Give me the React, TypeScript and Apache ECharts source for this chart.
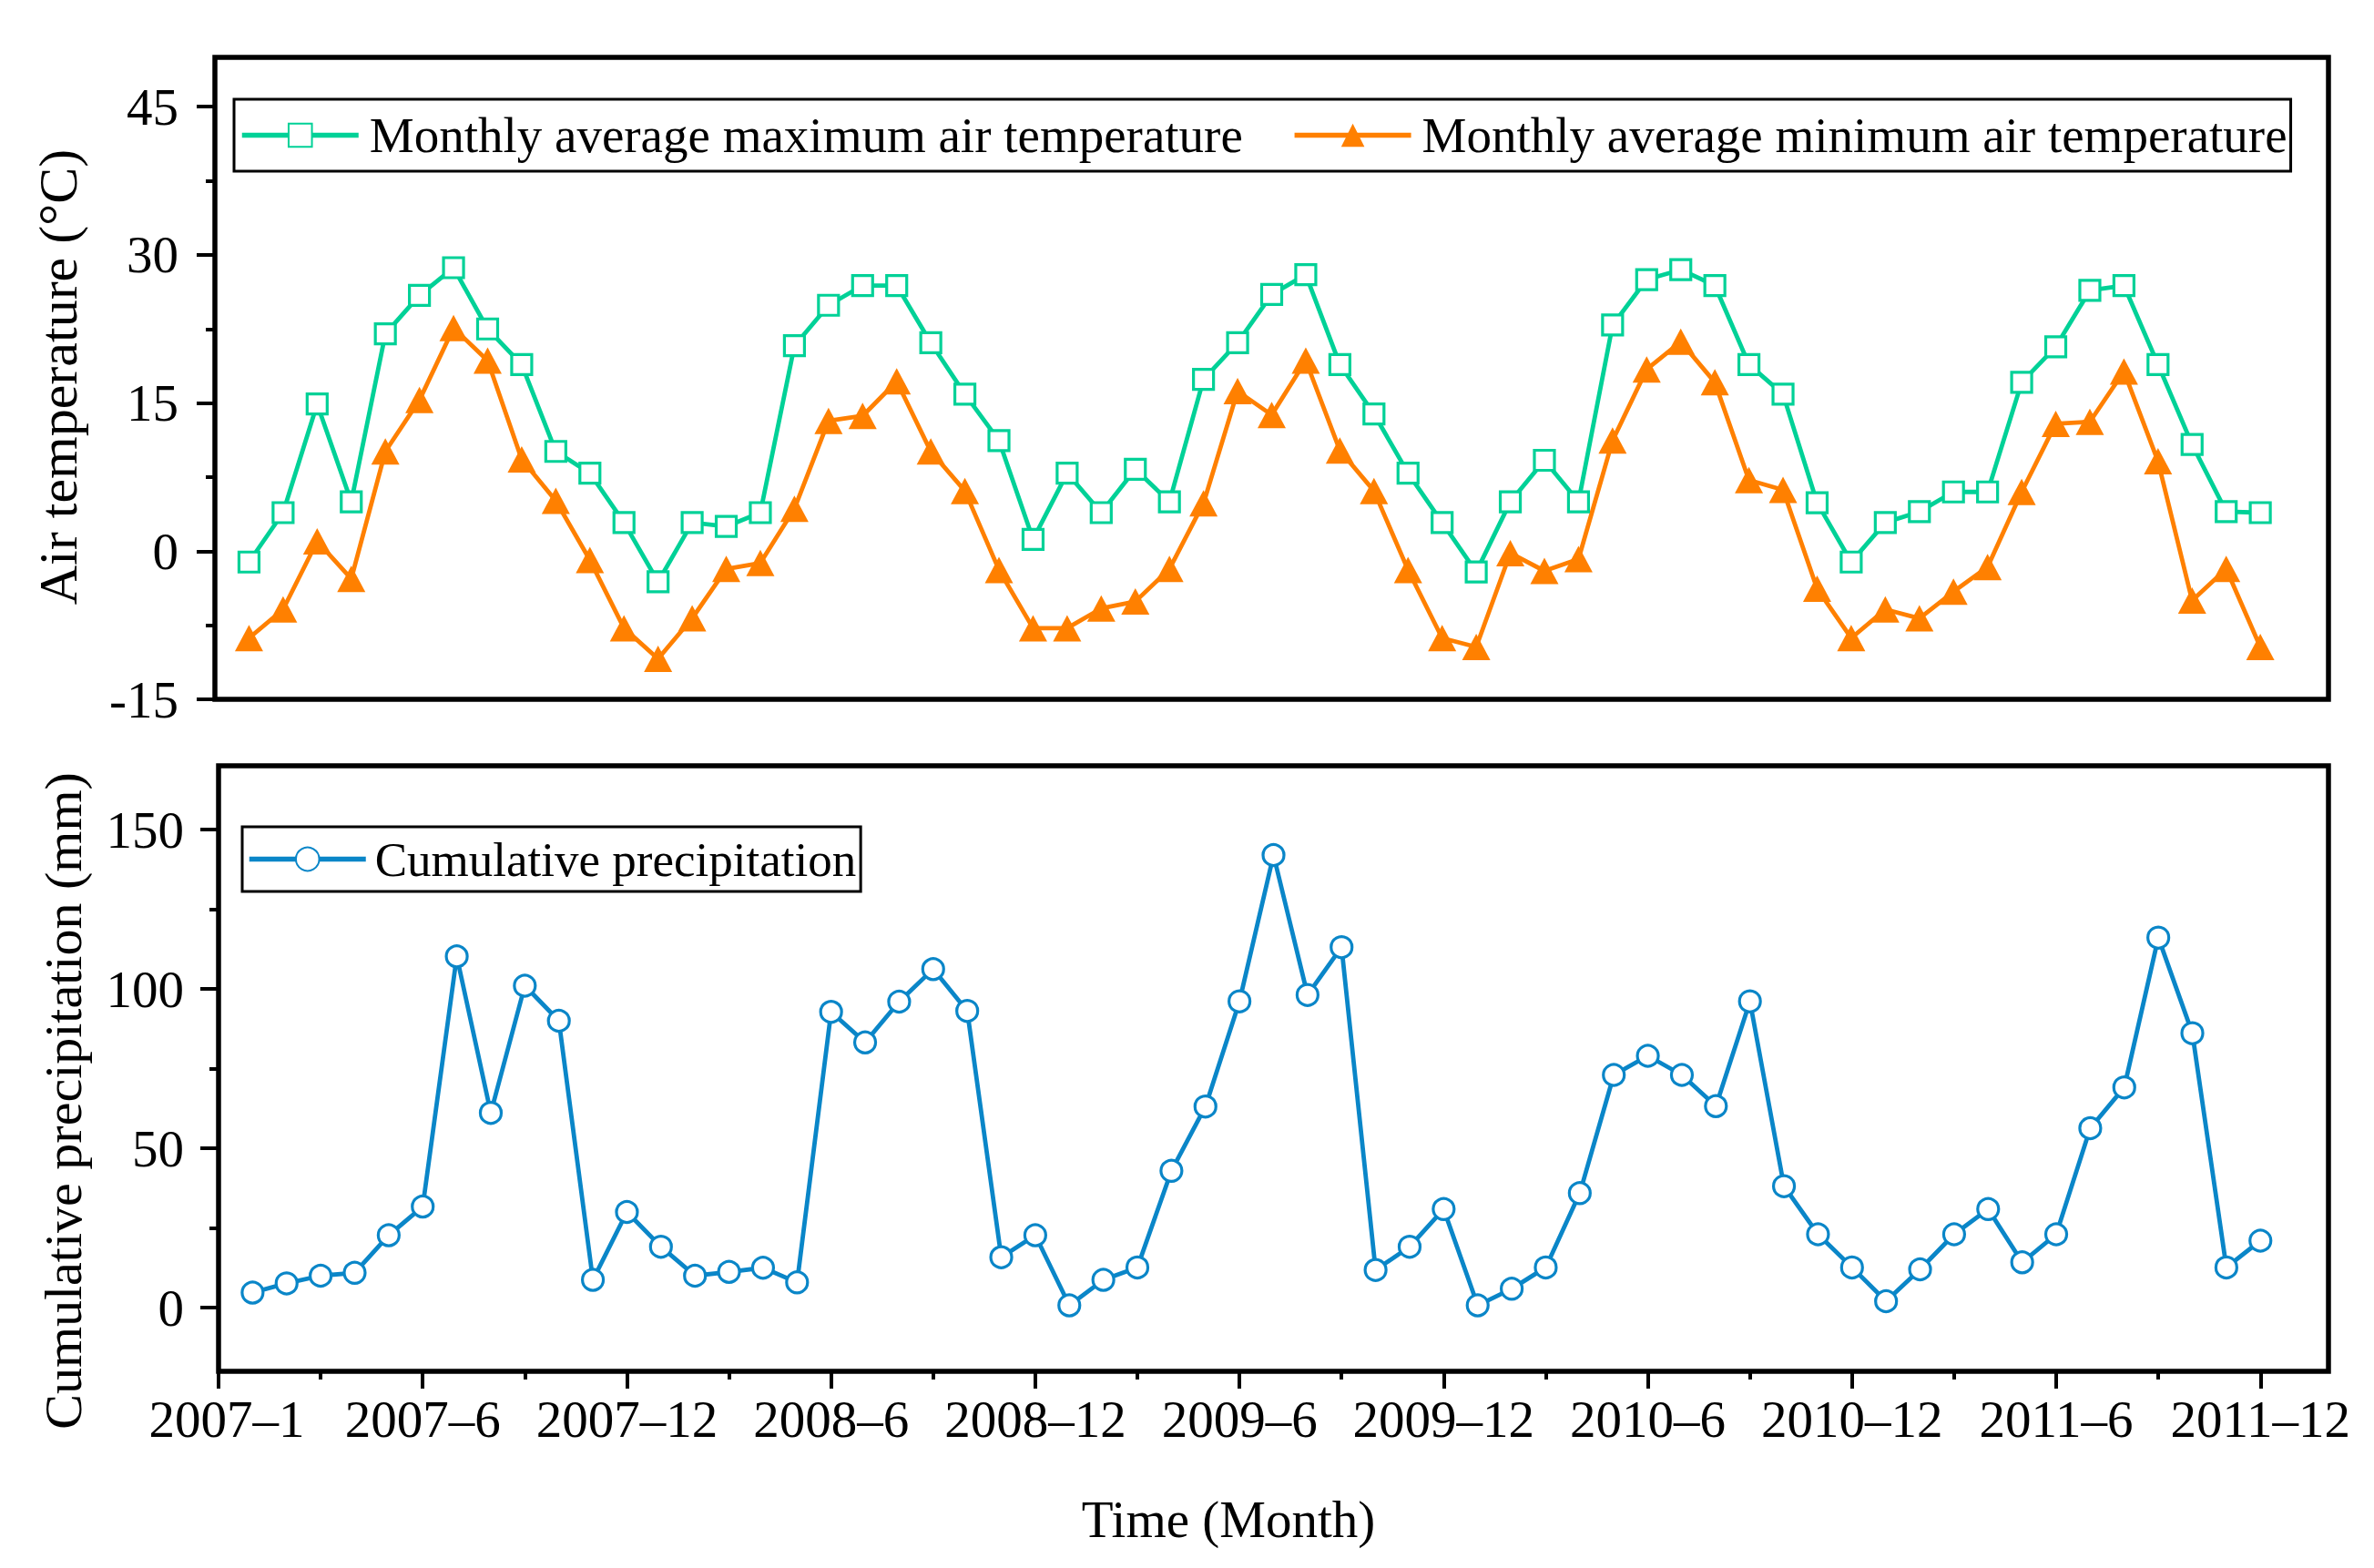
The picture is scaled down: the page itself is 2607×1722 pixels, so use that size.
import React, { useEffect, useRef } from 'react';
import * as echarts from 'echarts';

// ---- data ----
const monthIndex = Array.from({ length: 60 }, (_, i) => i + 1); // Jan 2007 .. Dec 2011 positions

const tempMax = [
  -1.1, 3.9, 14.9, 5.0, 22.0, 25.9, 28.7, 22.5, 18.9, 10.1,
  7.9, 2.9, -3.1, 2.9, 2.5, 3.9, 20.8, 24.9, 26.9, 26.9,
  21.1, 15.9, 11.2, 1.2, 7.9, 3.9, 8.3, 5.0, 17.4, 21.1,
  26.0, 28.0, 18.9, 13.9, 7.9, 2.9, -2.1, 5.0, 9.2, 5.0,
  22.9, 27.5, 28.5, 26.9, 18.9, 15.9, 4.9, -1.1, 2.9, 4.0,
  6.0, 6.0, 17.1, 20.7, 26.4, 26.9, 18.9, 10.8, 4.0, 3.9,
];

const tempMin = [
  -8.8, -5.9, 1.0, -2.8, 10.1, 15.3, 22.6, 19.3, 9.3, 5.1,
  -0.9, -7.8, -10.9, -6.8, -1.8, -1.2, 4.3, 13.2, 13.7, 17.2,
  10.1, 6.1, -1.9, -7.8, -7.8, -5.8, -5.1, -1.8, 4.85, 16.2,
  13.8, 19.3, 10.2, 6.1, -1.9, -8.8, -9.7, -0.2, -2.0, -0.8,
  11.2, 18.4, 21.2, 17.1, 7.2, 6.2, -3.8, -8.8, -5.9, -6.8,
  -4.1, -1.6, 6.0, 12.9, 13.1, 18.2, 9.1, -5.0, -1.8, -9.7,
];

const precipitation = [
  4.7, 7.6, 10.0, 10.9, 22.7, 31.7, 110.2, 61.1, 101.0, 90.0,
  8.7, 30.0, 19.1, 10.0, 11.2, 12.5, 7.9, 92.8, 83.2, 96.0,
  106.2, 93.1, 15.8, 22.7, 0.7, 8.7, 12.6, 42.9, 63.1, 96.1,
  142.0, 98.1, 113.1, 11.8, 19.1, 30.9, 0.7, 5.9, 12.6, 35.9,
  73.0, 79.0, 73.0, 63.2, 96.1, 38.1, 23.0, 12.6, 2.0, 12.0,
  23.0, 30.9, 14.2, 23.0, 56.3, 69.1, 116.1, 86.1, 12.6, 21.0,
];

const xTickValues = [0, 6, 12, 18, 24, 30, 36, 42, 48, 54, 60];
const xTickLabels = [
  '2007–1', '2007–6', '2007–12', '2008–6', '2008–12', '2009–6',
  '2009–12', '2010–6', '2010–12', '2011–6', '2011–12',
];
const xMinorTicks = [3, 9, 15, 21, 27, 33, 39, 45, 51, 57];
const tempTicks = [-15, 0, 15, 30, 45];
const tempMinorTicks = [-7.5, 7.5, 22.5, 37.5];
const precTicks = [0, 50, 100, 150];
const precMinorTicks = [25, 75, 125];

const seriesNames = [
  'Monthly average maximum air temperature',
  'Monthly average minimum air temperature',
  'Cumulative precipitation',
];

const GREEN = '#00D197';
const ORANGE = '#FF8000';
const BLUE = '#0A86C8';
const FONT = 'Liberation Serif';

export default function App() {
  const ref = useRef<HTMLDivElement>(null);

  useEffect(() => {
    if (!ref.current) return;
    const chart = echarts.init(ref.current, undefined, { renderer: 'svg' });

    const tickLine = { color: '#000', width: 4 };
    const noLine = { show: false, onZero: false };

    const option: any = {
      animation: false,
      backgroundColor: '#fff',
      textStyle: { fontFamily: FONT, color: '#000' },
      grid: [
        {
          left: 236, right: 50, top: 63, height: 705,
          show: true, borderColor: '#000', borderWidth: 5.5,
          backgroundColor: 'transparent', containLabel: false, outerBoundsMode: 'none',
        },
        {
          left: 240, right: 50, top: 841, height: 665,
          show: true, borderColor: '#000', borderWidth: 5.5,
          backgroundColor: 'transparent', containLabel: false, outerBoundsMode: 'none',
        },
      ],
      xAxis: [
        {
          type: 'value', gridIndex: 0, min: 0, max: 62, interval: 6,
          axisLine: noLine, axisTick: { show: false }, axisLabel: { show: false },
          splitLine: { show: false },
        },
        {
          type: 'value', gridIndex: 1, min: 0, max: 62, interval: 6, position: 'bottom',
          axisLine: noLine,
          axisTick: { show: true, inside: false, length: 19, lineStyle: tickLine, customValues: xTickValues },
          axisLabel: {
            show: true,
            customValues: xTickValues,
            formatter: (v: number) => {
              const k = xTickValues.indexOf(v);
              if (k < 0) return '';
              return k === 0 ? '{first|' + xTickLabels[k] + '}' : xTickLabels[k];
            },
            rich: {
              first: { fontSize: 57, fontFamily: FONT, color: '#000', padding: [0, 0, 0, 18] },
            },
            fontSize: 57, fontFamily: FONT, color: '#000', margin: 24,
          },
          splitLine: { show: false },
        },
        {
          type: 'value', gridIndex: 1, min: 0, max: 62, interval: 6, position: 'bottom',
          axisLine: noLine,
          axisTick: { show: true, inside: false, length: 9, lineStyle: tickLine, customValues: xMinorTicks },
          axisLabel: { show: false },
          splitLine: { show: false },
        },
      ],
      yAxis: [
        {
          type: 'value', gridIndex: 0, min: -15, max: 50, interval: 15, position: 'left',
          axisLine: noLine,
          axisTick: { show: true, inside: false, length: 20, lineStyle: tickLine, customValues: tempTicks },
          axisLabel: {
            show: true, customValues: tempTicks,
            fontSize: 57, fontFamily: FONT, color: '#000', margin: 40,
          },
          splitLine: { show: false },
        },
        {
          type: 'value', gridIndex: 0, min: -15, max: 50, interval: 15, position: 'left',
          axisLine: noLine,
          axisTick: { show: true, inside: false, length: 10, lineStyle: tickLine, customValues: tempMinorTicks },
          axisLabel: { show: false },
          splitLine: { show: false },
        },
        {
          type: 'value', gridIndex: 1, min: -20, max: 170, position: 'left',
          axisLine: noLine,
          axisTick: { show: true, inside: false, length: 20, lineStyle: tickLine, customValues: precTicks },
          axisLabel: {
            show: true, customValues: precTicks,
            fontSize: 57, fontFamily: FONT, color: '#000', margin: 38,
          },
          splitLine: { show: false },
        },
        {
          type: 'value', gridIndex: 1, min: -20, max: 170, position: 'left',
          axisLine: noLine,
          axisTick: { show: true, inside: false, length: 10, lineStyle: tickLine, customValues: precMinorTicks },
          axisLabel: { show: false },
          splitLine: { show: false },
        },
      ],
      legend: [
        {
          data: [seriesNames[0], seriesNames[1]],
          left: 257, top: 109, orient: 'horizontal',
          itemWidth: 128, itemHeight: 32, itemGap: 54,
          padding: [12, 4, 12, 6],
          borderColor: '#000', borderWidth: 3, backgroundColor: '#fff',
          selectedMode: false,
          lineStyle: { width: 5.5 },
          textStyle: { fontSize: 55, fontFamily: FONT, color: '#000', padding: [0, 0, 0, 7] },
        },
        {
          data: [seriesNames[2]],
          left: 266, top: 908, orient: 'horizontal',
          itemWidth: 128, itemHeight: 32,
          padding: [9, 5, 9, 5],
          borderColor: '#000', borderWidth: 3, backgroundColor: '#fff',
          selectedMode: false,
          lineStyle: { width: 5.5 },
          textStyle: { fontSize: 53, fontFamily: FONT, color: '#000', padding: [0, 0, 0, 5] },
        },
      ],
      series: [
        {
          name: seriesNames[0], type: 'line', xAxisIndex: 0, yAxisIndex: 0,
          data: monthIndex.map((m, i) => [m, tempMax[i]]),
          symbol: 'rect', symbolSize: 22,
          itemStyle: { color: '#fff', borderColor: GREEN, borderWidth: 3.2 },
          lineStyle: { color: GREEN, width: 4.8 },
          z: 3,
        },
        {
          name: seriesNames[1], type: 'line', xAxisIndex: 0, yAxisIndex: 0,
          data: monthIndex.map((m, i) => [m, tempMin[i]]),
          symbol: 'triangle', symbolSize: [31, 29],
          itemStyle: { color: ORANGE },
          lineStyle: { color: ORANGE, width: 4.8 },
          z: 3,
        },
        {
          name: seriesNames[2], type: 'line', xAxisIndex: 1, yAxisIndex: 2,
          data: monthIndex.map((m, i) => [m, precipitation[i]]),
          symbol: 'circle', symbolSize: 23,
          itemStyle: { color: '#fff', borderColor: BLUE, borderWidth: 3.2 },
          lineStyle: { color: BLUE, width: 4.8 },
          z: 3,
        },
      ],
      graphic: [
        {
          type: 'text', x: 64, y: 414, rotation: Math.PI / 2,
          style: {
            text: 'Air temperature (°C)', fontSize: 60, fontFamily: FONT, fill: '#000',
            align: 'center', verticalAlign: 'middle', textAlign: 'center', textVerticalAlign: 'middle',
          },
        },
        {
          type: 'text', x: 69, y: 1209, rotation: Math.PI / 2,
          style: {
            text: 'Cumulative precipitation (mm)', fontSize: 58, fontFamily: FONT, fill: '#000',
            align: 'center', verticalAlign: 'middle', textAlign: 'center', textVerticalAlign: 'middle',
          },
        },
        {
          type: 'text', x: 1349, y: 1668,
          style: {
            text: 'Time (Month)', fontSize: 57, fontFamily: FONT, fill: '#000',
            align: 'center', verticalAlign: 'middle', textAlign: 'center', textVerticalAlign: 'middle',
          },
        },
      ],
    };

    chart.setOption(option);
    return () => chart.dispose();
  }, []);

  return (
    <div
      ref={ref}
      style={{ position: 'absolute', left: 0, top: 0, width: 2607, height: 1722, background: '#fff' }}
    />
  );
}
